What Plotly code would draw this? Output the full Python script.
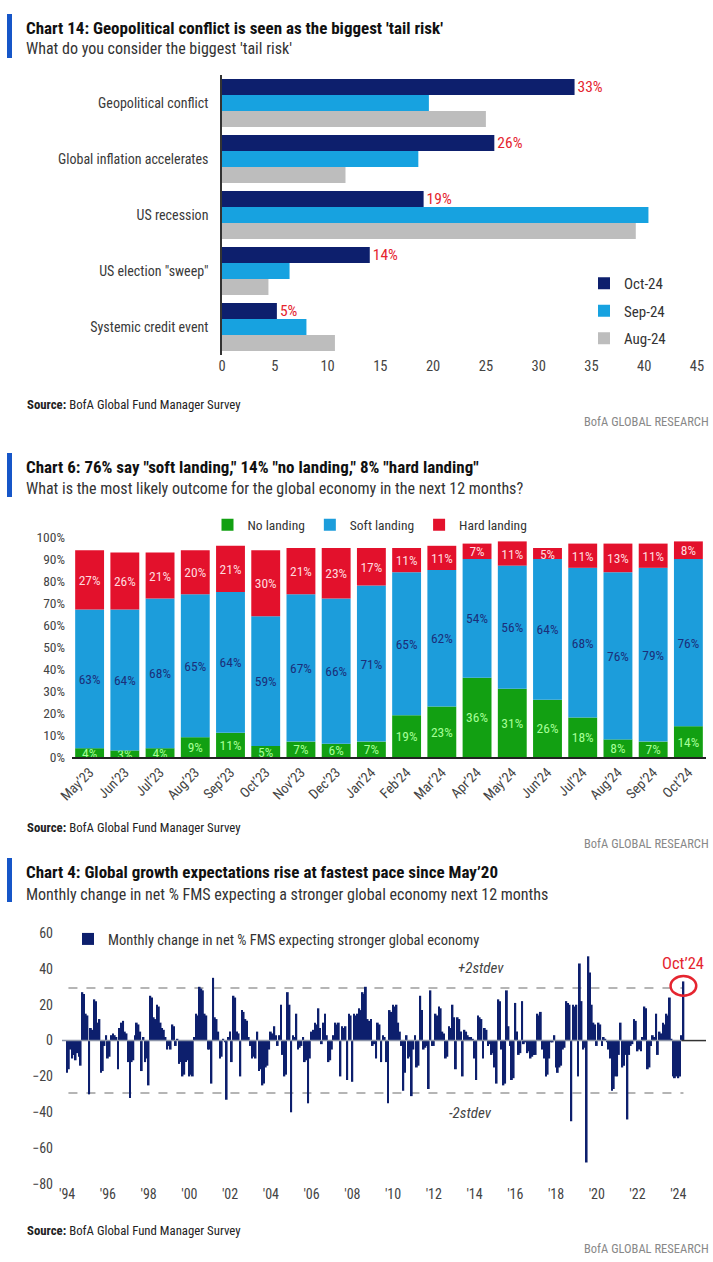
import numpy as np
import pandas as pd
import plotly.graph_objects as go

W, H = 713, 1262
FONT = "Roboto Condensed, DejaVu Sans Condensed, sans-serif"

# ---------------- Chart 14 data ----------------
risk_categories = ["Geopolitical conflict", "Global inflation accelerates", "US recession",
                   'US election "sweep"', "Systemic credit event"]
risk_oct24 = [33.4, 25.8, 19.1, 14.0, 5.2]
risk_sep24 = [19.6, 18.6, 40.4, 6.4, 8.0]
risk_aug24 = [25.0, 11.7, 39.2, 4.4, 10.7]
risk_labels = ["33%", "26%", "19%", "14%", "5%"]

# ---------------- Chart 6 data ----------------
landing_months = ["May’23", "Jun’23", "Jul’23", "Aug’23", "Sep’23", "Oct’23", "Nov’23", "Dec’23", "Jan’24",
                  "Feb’24", "Mar’24", "Apr’24", "May’24", "Jun’24", "Jul’24", "Aug’24", "Sep’24", "Oct’24"]
no_landing = [4, 3, 4, 9, 11, 5, 7, 6, 7, 19, 23, 36, 31, 26, 18, 8, 7, 14]
soft_landing = [63, 64, 68, 65, 64, 59, 67, 66, 71, 65, 62, 54, 56, 64, 68, 76, 79, 76]
hard_landing = [27, 26, 21, 20, 21, 30, 21, 23, 17, 11, 11, 7, 11, 5, 11, 13, 11, 8]

# ---------------- Chart 4 data (monthly, from Jul-1994 to Oct-2024) ----------------
growth_start = "1994-07-01"
growth_change = [
    -18, -16, -5, -10, -8, -11, -7, -9, -14, 27, 26, 15,
    14, -30, 7, 6, 23, 22, 10, 12, -18, -17, -3, 3,
    -10, -9, 3, 4, 3, 2, -16, 7, 10, 11, 5, 4,
    -12, -32, -12, -11, 3, 10, 9, 5, -17, 2, -12, -10,
    -25, 25, 24, 13, 12, 20, 19, 10, 7, 6, 2, -5,
    -3, -5, 9, 8, -3, 1, -13, -12, -20, -19, -12, -11,
    -20, -19, -20, 2, 15, 14, 30, 29, 28, 15, 14, -5,
    -5, -24, 35, 13, 12, 5, -10, -9, 1, -1, -33, 2,
    5, -12, 25, 24, 5, 4, -20, 17, 16, 12, 11, 2,
    -3, -10, -9, -10, 5, -17, -16, -25, -24, -15, -14, -5,
    5, 4, 8, 3, -3, 3, 20, -8, -20, -19, 27, 20,
    -40, 3, 2, 15, -5, -4, -3, 2, -12, -11, -35, -10,
    5, 6, 10, 9, 18, 7, -2, 10, 15, 3, -12, -11,
    -5, 3, 10, 9, 10, -20, 8, 7, 8, -22, 15, 14,
    -23, 15, 14, 15, 18, 17, 27, 26, 30, 12, 11, 12,
    -3, -2, -10, 10, 9, -12, 3, 2, -12, -35, 17, 16,
    20, 19, 20, 10, 5, -3, -28, -18, 3, -10, -9, -31,
    -5, 3, -15, -14, 25, 17, -5, -4, -3, -27, 28, -3,
    -3, 15, 14, 19, 18, 5, 4, -10, -9, 8, 7, 20,
    13, -16, 13, 12, 5, -20, 6, 5, 3, 2, 2, 1,
    -10, -22, 14, 13, 12, -10, 7, 6, -3, -2, -8, -7,
    -15, -24, 23, 22, -5, -25, -24, 28, 8, -3, -22, -21,
    21, 5, -8, -7, 22, -2, -1, -7, -6, -10, -9, -8,
    -8, 15, 14, 16, -5, -10, -20, -19, -10, -1, -1, 3,
    -15, -18, -15, -14, -5, -4, 22, 21, 20, -45, 20, 19,
    20, -20, 43, 22, -5, -4, -68, 47, 38, 20, 10, 9,
    -3, 10, 9, -3, 2, 1, -1, -5, -10, -28, -27, -20,
    -20, -8, 10, -15, -14, -8, -44, -8, -3, -2, 12, 11,
    -6, -5, -6, 2, 19, 18, -16, -15, -3, 3, 2, 15,
    -8, 5, 4, 10, 9, 15, 14, 24, 1, -20, -21, -20,
    -21, -20, 3, 33,
]
year_tick_labels = ["'94", "'96", "'98", "'00", "'02", "'04", "'06", "'08", "'10", "'12",
                    "'14", "'16", "'18", "'20", "'22", "'24"]
two_stdev = 29.3

NAVY = "#0d1f6d"
SKY = "#17a2e0"
GREY = "#bdbdbd"
GREEN = "#12a012"
SOFT = "#1c9ddb"
HARD = "#e3112c"
RED = "#e5252f"
ACCENT = "#1656c8"


def px(v):
    return v / W


def py(v):
    return 1 - v / H


fig = go.Figure()

# ---------- Chart 14 ----------
for name, vals, col, lg in [("Oct-24", risk_oct24, NAVY, "a"), ("Sep-24", risk_sep24, SKY, "b"),
                            ("Aug-24", risk_aug24, GREY, "c")]:
    fig.add_trace(go.Bar(
        y=risk_categories, x=vals, orientation="h", name=name, marker=dict(color=col, line=dict(width=0)),
        xaxis="x", yaxis="y", legend="legend", legendgroup=lg,
        text=risk_labels if name == "Oct-24" else None,
        textposition="outside" if name == "Oct-24" else "none", constraintext="none",
        textfont=dict(color=RED, size=15.5, family=FONT), cliponaxis=False,
    ))

# ---------- Chart 6 ----------
no_arr = np.array(no_landing)
soft_arr = np.array(soft_landing)
hard_arr = np.array(hard_landing)
stack_defs = [
    ("No landing", no_arr, np.zeros_like(no_arr), GREEN, "#a6ff98"),
    ("Soft landing", soft_arr, no_arr, SOFT, "#1b2f7a"),
    ("Hard landing", hard_arr, no_arr + soft_arr, HARD, "#ffd9de"),
]
for name, vals, base, col, tcol in stack_defs:
    fig.add_trace(go.Bar(
        x=landing_months, y=vals, base=base, name=name, width=0.82, offsetgroup="landing",
        marker=dict(color=col, line=dict(width=0)), xaxis="x2", yaxis="y2", legend="legend2",
        text=[f"{v}%" for v in vals], textposition="inside", insidetextanchor="middle",
        constraintext="none", textangle=0, textfont=dict(color=tcol, size=13.5, family=FONT),
    ))

# ---------- Chart 4 ----------
growth_dates = pd.date_range(growth_start, periods=len(growth_change), freq="MS")
fig.add_trace(go.Bar(
    x=growth_dates, y=growth_change, name="Monthly change in net % FMS expecting stronger global economy",
    marker=dict(color=NAVY, line=dict(width=0)), width=33 * 24 * 3600 * 1000,
    xaxis="x3", yaxis="y3", legend="legend3",
))

tick_dates = [f"{1994 + 2 * i}-07-01" for i in range(len(year_tick_labels))]
last_date = growth_dates[-1]
last_val = growth_change[-1]

fig.update_layout(
    width=W, height=H, margin=dict(l=0, r=0, t=0, b=0, autoexpand=False),
    paper_bgcolor="white", plot_bgcolor="white",
    font=dict(family=FONT, color="#333"),
    barmode="group", bargap=0.143, bargroupgap=0,
    showlegend=True,
    xaxis=dict(domain=[px(222), px(697)], anchor="y", range=[0, 45], dtick=5, showgrid=False, automargin=False,
               zeroline=False, showline=False, ticks="", tickfont=dict(family=FONT, size=14.5, color="#444")),
    yaxis=dict(domain=[py(355), py(75)], anchor="x", type="category", autorange="reversed", automargin=False,
               showline=True, linecolor="#333", linewidth=1.5, ticks="", showgrid=False,
               ticklabelstandoff=9, tickfont=dict(family=FONT, size=14, color="#3a3a3a")),
    xaxis2=dict(domain=[px(72), px(706)], anchor="y2", type="category", tickangle=-45, showline=True,
                linecolor="#222", linewidth=1.5, ticks="", showgrid=False, automargin=False,
                tickfont=dict(family=FONT, size=14, color="#444")),
    yaxis2=dict(domain=[py(757), py(537)], anchor="x2", range=[0, 100], dtick=10, ticksuffix="%",
                showgrid=False, zeroline=False, ticks="", ticklabelstandoff=6, automargin=False,
                tickfont=dict(family=FONT, size=13.5, color="#444")),
    xaxis3=dict(domain=[px(62), px(706)], anchor="y3", type="date", range=["1994-04-01", "2025-11-10"],
                tickmode="array", tickvals=tick_dates, ticktext=year_tick_labels, showgrid=False,
                zeroline=False, ticks="", automargin=False, tickfont=dict(family=FONT, size=14, color="#444")),
    yaxis3=dict(domain=[py(1184), py(933)], anchor="x3", range=[-80, 60], dtick=20, showgrid=False,
                zeroline=False, ticks="", ticklabelstandoff=8, automargin=False,
                tickfont=dict(family=FONT, size=14, color="#444")),
    legend=dict(x=px(584), y=py(267), xanchor="left", yanchor="top", traceorder="grouped",
                tracegroupgap=5, font=dict(family=FONT, size=15, color="#333"), bgcolor="rgba(0,0,0,0)",
                itemwidth=30),
    legend2=dict(orientation="h", x=px(370), y=py(525), xanchor="center", yanchor="middle",
                 font=dict(family=FONT, size=13.5, color="#333"), bgcolor="rgba(0,0,0,0)", itemwidth=30),
    legend3=dict(x=px(68), y=py(939), xanchor="left", yanchor="middle",
                 font=dict(family=FONT, size=14.5, color="#333"), bgcolor="rgba(0,0,0,0)", itemwidth=30),
)

shapes = []
annotations = []

# accent bars and titles
for top, bot, title, sub, ty, sy, src_y, brand_y in [
    (14, 58, "Chart 14: Geopolitical conflict is seen as the biggest 'tail risk'",
     "What do you consider the biggest 'tail risk'", 28, 48, 404, 421),
    (453, 497, "Chart 6: 76% say \"soft landing,\" 14% \"no landing,\" 8% \"hard landing\"",
     "What is the most likely outcome for the global economy in the next 12 months?", 467, 488, 827, 843),
    (858, 902, "Chart 4: Global growth expectations rise at fastest pace since May’20",
     "Monthly change in net % FMS expecting a stronger global economy next 12 months", 872, 894, 1230, 1248),
]:
    shapes.append(dict(type="rect", xref="paper", yref="paper", x0=px(7), x1=px(12), y0=py(bot), y1=py(top),
                       fillcolor=ACCENT, line=dict(width=0)))
    annotations.append(dict(xref="paper", yref="paper", x=px(24), y=py(ty), xanchor="left", yanchor="middle",
                            text=f"<b>{title}</b>", showarrow=False,
                            font=dict(family=FONT, size=17, color="#111")))
    annotations.append(dict(xref="paper", yref="paper", x=px(24), y=py(sy), xanchor="left", yanchor="middle",
                            text=sub, showarrow=False, font=dict(family=FONT, size=16, color="#333")))
    annotations.append(dict(xref="paper", yref="paper", x=px(25), y=py(src_y), xanchor="left", yanchor="middle",
                            text="<b>Source:</b> BofA Global Fund Manager Survey", showarrow=False,
                            font=dict(family=FONT, size=12.8, color="#222")))
    annotations.append(dict(xref="paper", yref="paper", x=px(711), y=py(brand_y), xanchor="right",
                            yanchor="middle", text="BofA GLOBAL RESEARCH", showarrow=False,
                            font=dict(family=FONT, size=12.5, color="#888")))

# chart 4 reference lines
for lvl in (two_stdev, -two_stdev):
    shapes.append(dict(type="line", xref="x3 domain", yref="y3", x0=0.01, x1=0.965, y0=lvl, y1=lvl,
                       line=dict(color="#b5b5b5", width=2, dash="dash"), layer="below"))
shapes.append(dict(type="line", xref="x3 domain", yref="y3", x0=0, x1=0.962, y0=0, y1=0,
                   line=dict(color="#8c94a8", width=1.5), layer="above"))
shapes.append(dict(type="line", xref="x3 domain", yref="y3", x0=0.962, x1=1, y0=0, y1=0,
                   line=dict(color="#333", width=1.5), layer="above"))
shapes.append(dict(type="circle", xref="x3", yref="y3",
                   x0=last_date - pd.Timedelta(days=230), x1=last_date + pd.Timedelta(days=230),
                   y0=last_val - 8, y1=last_val + 3, line=dict(color=RED, width=2.5)))

annotations.append(dict(xref="paper", yref="y3", x=px(481), y=two_stdev + 11, text="<i>+2stdev</i>",
                        xanchor="center", yanchor="middle", showarrow=False,
                        font=dict(family=FONT, size=15, color="#444")))
annotations.append(dict(xref="paper", yref="y3", x=px(471), y=-two_stdev - 11, text="<i>-2stdev</i>",
                        xanchor="center", yanchor="middle", showarrow=False,
                        font=dict(family=FONT, size=15, color="#444")))
annotations.append(dict(xref="x3", yref="y3", x=last_date, y=last_val + 10, text="Oct’24",
                        xanchor="center", yanchor="middle", showarrow=False,
                        font=dict(family=FONT, size=16.5, color=RED)))

fig.update_layout(shapes=shapes, annotations=annotations)
fig.write_html("out.html", config={"displayModeBar": False},
               post_script="document.body.style.margin='0px';")
